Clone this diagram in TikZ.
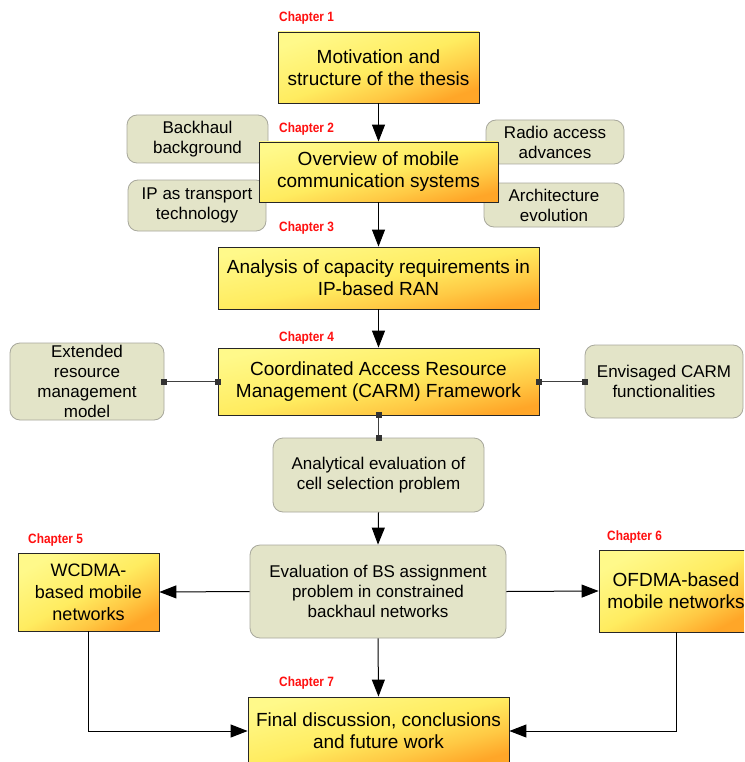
\documentclass[tikz,border=0pt]{standalone}
\usepackage{fontspec}
\setmainfont{Liberation Sans}
\newfontfamily\chapfont[FakeStretch=0.88]{Liberation Sans}
\usetikzlibrary{arrows.meta}
\definecolor{ylA}{HTML}{FFF98A}
\definecolor{ylB}{HTML}{FFEC60}
\definecolor{ylC}{HTML}{FFA628}
\pgfdeclareverticalshading{chshade}{100bp}{color(0bp)=(ylC); color(25bp)=(ylC); color(36bp)=(ylC!50!ylB); color(50bp)=(ylB); color(75bp)=(ylA); color(100bp)=(ylA)}
\definecolor{gfill}{HTML}{E3E4C8}
\definecolor{gline}{HTML}{A8A89C}
\definecolor{chred}{HTML}{FF1010}
\begin{document}
\begin{tikzpicture}[x=1pt,y=-1pt,
  chbox/.style={draw=black!85, line width=0.8pt, shading=chshade, shading angle=#1,
    align=center, inner sep=0pt, font=\fontsize{19}{22}\selectfont},
  chbox/.default=15,
  gbox/.style={draw=gline, line width=0.8pt, fill=gfill, rounded corners=10pt, align=center, inner sep=0pt,
    font=\fontsize{17}{20}\selectfont},
  chlab/.style={anchor=west, inner sep=0pt, text=chred, font=\chapfont\bfseries\fontsize{13.5}{15}\selectfont},
  sq/.style={fill=black!80, minimum size=6pt, inner sep=0pt},
  arr/.style={-{Triangle[width=13pt,length=17pt]}, line width=1pt, black},
  con/.style={line width=1.2pt, black!75}]
\useasboundingbox (0,0) rectangle (744,762);
\clip (0,0) rectangle (744,762);
\fill[white] (0,0) rectangle (744,762);

% main boxes
\node[chbox=19.5, minimum width=201pt, minimum height=71pt] (ch1) at (378.5,67.5) {Motivation and\\structure of the thesis};
\node[chbox=11, minimum width=321pt, minimum height=62pt] (ch3) at (378.5,278) {Analysis of capacity requirements in\\IP-based RAN};
\node[chbox=12, minimum width=321pt, minimum height=67pt] (ch4) at (378.5,381.5) {Coordinated Access Resource\\Management (CARM) Framework};
\node[chbox=29, minimum width=141pt, minimum height=78pt, font=\fontsize{18}{22}\selectfont] (wc) at (88.5,592) {WCDMA-\\based mobile\\networks};
\node[chbox=28, minimum width=154pt, minimum height=82pt] (of) at (676,591) {OFDMA-based\\mobile networks};
\node[chbox=14.6, minimum width=261pt, minimum height=68pt] (ch7) at (378.5,731) {Final discussion, conclusions\\and future work};

% green boxes
\node[gbox, minimum width=141pt, minimum height=48pt] (bb) at (197.5,139) {Backhaul\\background};
\node[gbox, minimum width=138pt, minimum height=51pt] (ip) at (197,205.5) {IP as transport\\technology};
\node[gbox, minimum width=138pt, minimum height=44pt] (ra) at (555,142) {Radio access\\advances};
\node[gbox, minimum width=140pt, minimum height=44pt] (ae) at (554,205) {Architecture\\evolution};
\node[gbox, minimum width=154pt, minimum height=77pt] (ext) at (87,381.5) {Extended\\resource\\management\\model};
\node[gbox, minimum width=158pt, minimum height=73pt] (env) at (664,381.5) {Envisaged CARM\\functionalities};
\node[gbox, minimum width=211pt, minimum height=74pt] (ana) at (378.5,475) {Analytical evaluation of\\cell selection problem};
\node[gbox, minimum width=256pt, minimum height=93pt] (eva) at (378,591.5) {Evaluation of BS assignment\\problem in constrained\\backhaul networks};

% ch2 drawn over the side boxes
\node[chbox=14, minimum width=239pt, minimum height=60pt] (ch2) at (378.5,172) {Overview of mobile\\communication systems};

% chapter labels
\node[chlab] (l1) at (279,18) {Chapter 1};
\node[chlab] (l2) at (279,129) {Chapter 2};
\node[chlab] (l3) at (279,228) {Chapter 3};
\node[chlab] (l4) at (279,338) {Chapter 4};
\node[chlab] (l5) at (28,540) {Chapter 5};
\node[chlab] (l6) at (607,537) {Chapter 6};
\node[chlab] (l7) at (279,683) {Chapter 7};

% arrows
\draw[arr] (ch1.south) -- (ch2.north);
\draw[arr] (ch2.south) -- (ch3.north);
\draw[arr] (ch3.south) -- (ch4.north);
\draw[arr] (ana.south) -- (eva.north);
\draw[arr] (eva.west) -- (wc.east);
\draw[arr] (eva.east) -- (of.west);
\draw[arr] (eva.south) -- (ch7.north);
\draw[arr] (wc.south) |- (ch7.west);
\draw[arr] (of.south) |- (ch7.east);

% square-ended connectors
\draw[con] (ext.east) -- (ch4.west);
\draw[con] (ch4.east) -- (env.west);
\draw[con] (ch4.south) -- (ana.north);
\node[sq] at (ext.east) {};
\node[sq] at (ch4.west) {};
\node[sq] at (ch4.east) {};
\node[sq] at (env.west) {};
\node[sq] at (ch4.south) {};
\node[sq] at (ana.north) {};
\end{tikzpicture}
\end{document}
